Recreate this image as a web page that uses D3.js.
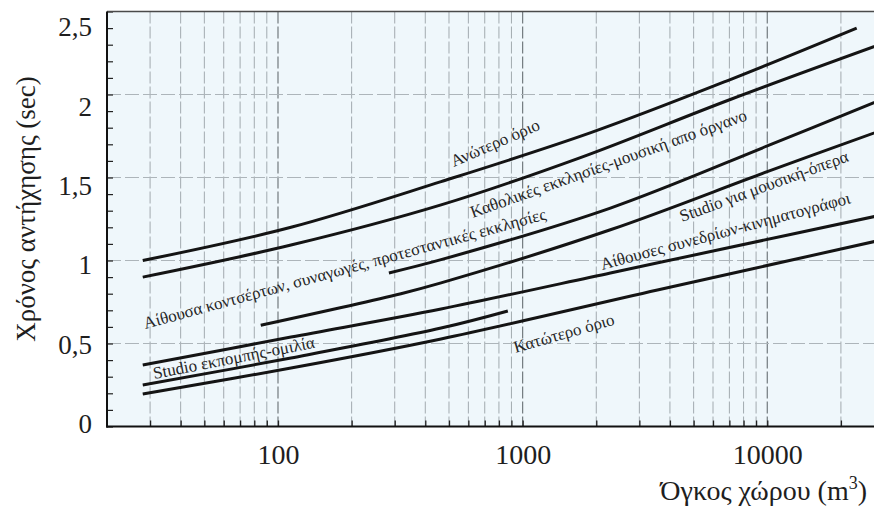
<!DOCTYPE html>
<html>
<head>
<meta charset="utf-8">
<script src="https://cdn.jsdelivr.net/npm/d3@7"></script>
<style>
  html, body { margin: 0; padding: 0; background: #ffffff; }
  svg { display: block; font-family: "Liberation Serif", "Times New Roman", "DejaVu Serif", serif; }
</style>
</head>
<body>
<svg id="chart" width="874" height="513"></svg>
<script>
// Recommended reverberation time (s) against room volume (m³), one curve per room type.
// Each point is [volume, reverberation time].
const upperLimit      = [[28, 1.00], [113, 1.20], [464, 1.475], [1900, 1.77], [7060, 2.09], [23200, 2.40]];
const catholicChurch  = [[28, 0.90], [113, 1.093], [464, 1.335], [1723, 1.62], [7060, 1.97], [30000, 2.31]];
const concertHall     = [[284, 0.925], [464, 1.005], [2284, 1.316], [10000, 1.69], [30000, 1.975]];
const musicStudio     = [[85, 0.61], [318, 0.80], [464, 0.865], [2284, 1.185], [10000, 1.535], [30000, 1.79]];
const conferenceHall  = [[28, 0.37], [113, 0.539], [464, 0.708], [2284, 0.925], [6000, 1.057], [30000, 1.277]];
const speechStudio    = [[28, 0.25], [113, 0.413], [464, 0.593], [870, 0.696]];
const lowerLimit      = [[28, 0.196], [113, 0.352], [464, 0.527], [3557, 0.822], [30000, 1.127]];

const seriesList = [upperLimit, catholicChurch, concertHall, musicStudio, conferenceHall, speechStudio, lowerLimit];

// Curve captions and where they start, in data units: [volume, time, angle in degrees]
const curveLabels = [
  "Ανώτερο όριο",
  "Καθολικές εκκλησίες-μουσική απο όργανο",
  "Αίθουσα κοντσέρτων, συναγωγές, προτεσταντικές εκκλησίες",
  "Studio για μουσική-όπερα",
  "Αίθουσες συνεδρίων-κινηματογράφοι",
  "Studio εκπομπής-ομιλία",
  "Κατώτερο όριο"
];
const labelAnchors = [
  [523, 1.563, -23.5],
  [625, 1.256, -19.6],
  [28.7, 0.587, -15.3],
  [4485, 1.232, -20],
  [2114, 0.943, -15],
  [31.2, 0.286, -11],
  [936, 0.443, -16]
];

const xTickValues = [100, 1000, 10000];
const yTickValues = [0, 0.5, 1, 1.5, 2, 2.5];
const yGridValues = [0.5, 1, 1.5, 2];
const xDomain = [20, 30000];
const yDomain = [0, 2.5];

// Layout
const plotLeft = 107, plotRight = 884, plotTop = 11.5, plotBottom = 426.5;

const svg = d3.select("#chart");

const x = d3.scaleLog().domain(xDomain).range([plotLeft, plotRight]);
const y = d3.scaleLinear().domain(yDomain).range([plotBottom, plotTop]);
// The printed value labels sit on a slightly tighter spacing than the ticks
const yLabel = d3.scaleLinear().domain(yDomain).range([424, 27]);

// Minor lines at 1..9 of every decade inside the domain
const xGridValues = [];
[10, 100, 1000, 10000].forEach(dec => {
  for (let k = 1; k <= 9; k++) {
    const v = dec * k;
    if (v > xDomain[0] && v < xDomain[1]) xGridValues.push(v);
  }
});
const isDecade = v => Math.abs(Math.log10(v) - Math.round(Math.log10(v))) < 1e-9;

// Plot background
svg.append("rect")
  .attr("x", plotLeft).attr("y", plotTop)
  .attr("width", plotRight - plotLeft).attr("height", plotBottom - plotTop)
  .attr("fill", "#eff7fb");

// Vertical grid
svg.append("g").selectAll("line").data(xGridValues).join("line")
  .attr("x1", d => x(d)).attr("x2", d => x(d))
  .attr("y1", plotTop).attr("y2", plotBottom)
  .attr("stroke", d => isDecade(d) ? "#727a7e" : "#a2aaaf")
  .attr("stroke-width", d => isDecade(d) ? 1.2 : 1)
  .attr("stroke-dasharray", "12,3");

// Horizontal grid
svg.append("g").selectAll("line").data(yGridValues).join("line")
  .attr("x1", plotLeft).attr("x2", plotRight)
  .attr("y1", d => y(d)).attr("y2", d => y(d))
  .attr("stroke", "#adb5ba").attr("stroke-width", 1)
  .attr("stroke-dasharray", "14,4");

// Inner ticks on the bottom axis
const xMinor = svg.append("g")
  .attr("transform", `translate(0,${plotBottom})`)
  .call(d3.axisTop(x).tickValues(xGridValues).tickSize(6).tickFormat(() => ""));
xMinor.select(".domain").remove();
xMinor.selectAll(".tick line").attr("stroke", "#222").attr("stroke-width", 1.3);

// Inner ticks on the left axis every 0.1 s
const yMinor = svg.append("g")
  .attr("transform", `translate(${plotLeft},0)`)
  .call(d3.axisRight(y).tickValues(d3.range(0, 26).map(i => i / 10)).tickSize(6).tickFormat(() => ""));
yMinor.select(".domain").remove();
yMinor.selectAll(".tick line").attr("stroke", "#222").attr("stroke-width", 1.2);

// Frame
svg.append("line").attr("x1", plotLeft).attr("x2", plotRight)
  .attr("y1", plotTop).attr("y2", plotTop)
  .attr("stroke", "#4a4a4a").attr("stroke-width", 1.6);
svg.append("line").attr("x1", plotLeft).attr("x2", plotLeft)
  .attr("y1", plotTop).attr("y2", plotBottom + 1)
  .attr("stroke", "#111").attr("stroke-width", 2);
svg.append("line").attr("x1", plotLeft - 1).attr("x2", plotRight)
  .attr("y1", plotBottom).attr("y2", plotBottom)
  .attr("stroke", "#111").attr("stroke-width", 2);

// Curves
const line = d3.line()
  .x(d => x(d[0]))
  .y(d => y(d[1]))
  .curve(d3.curveCatmullRom.alpha(0.5));

svg.append("g").selectAll("path").data(seriesList).join("path")
  .attr("d", line)
  .attr("fill", "none")
  .attr("stroke", "#141414")
  .attr("stroke-width", 3)
  .attr("stroke-linecap", "butt");

// Curve captions
svg.append("g").selectAll("text").data(curveLabels).join("text")
  .attr("transform", (d, i) => {
    const a = labelAnchors[i];
    return `translate(${x(a[0])},${y(a[1])}) rotate(${a[2]})`;
  })
  .attr("font-size", 17)
  .attr("fill", "#262626")
  .text(d => d);

// Value labels on the x axis
const xAxis = svg.append("g")
  .attr("transform", `translate(0,${plotBottom})`)
  .call(d3.axisBottom(x).tickValues(xTickValues).tickSize(0).tickFormat(d3.format("d")));
xAxis.select(".domain").remove();
xAxis.selectAll("text")
  .attr("y", 37).attr("dy", 0)
  .attr("font-family", "Liberation Serif, Times New Roman, serif")
  .attr("font-size", 28).attr("fill", "#1e1e1e");

// Value labels on the y axis, decimal comma
const greekFormat = d3.formatLocale({ decimal: ",", thousands: ".", grouping: [3], currency: ["", "€"] }).format(".1~f");
const yAxis = svg.append("g")
  .attr("transform", `translate(${plotLeft},0)`)
  .call(d3.axisLeft(yLabel).tickValues(yTickValues).tickSize(0).tickPadding(15).tickFormat(greekFormat));
yAxis.select(".domain").remove();
yAxis.selectAll("text")
  .attr("font-family", "Liberation Serif, Times New Roman, serif")
  .attr("font-size", 27).attr("fill", "#1e1e1e");

// Axis titles
svg.append("text")
  .attr("transform", "translate(35,209) rotate(-90)")
  .attr("text-anchor", "middle")
  .attr("font-size", 27).attr("fill", "#1e1e1e")
  .text("Χρόνος αντήχησης (sec)");

const xTitle = svg.append("text")
  .attr("x", 867).attr("y", 500)
  .attr("text-anchor", "end")
  .attr("font-size", 28).attr("fill", "#1e1e1e");
xTitle.append("tspan").text("Όγκος χώρου (m");
xTitle.append("tspan").attr("font-size", 18).attr("dy", -11).text("3");
xTitle.append("tspan").attr("dy", 11).text(")");
</script>
</body>
</html>
